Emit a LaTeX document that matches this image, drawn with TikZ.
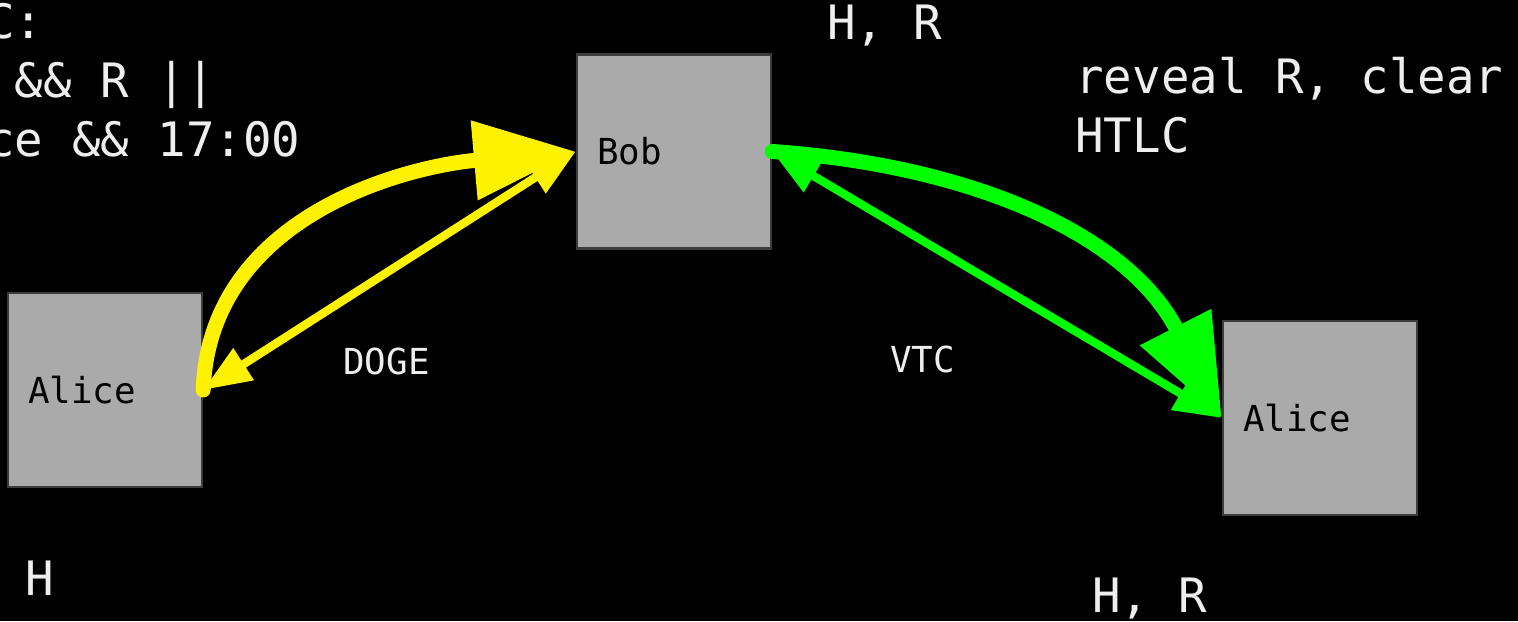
\documentclass[tikz,border=0pt]{standalone}
\usepackage{fontspec}
\setmonofont{DejaVu Sans Mono}
\usetikzlibrary{arrows.meta}
\definecolor{boxgray}{HTML}{AAAAAA}
\definecolor{boxedge}{HTML}{3C3C3C}
\definecolor{txtgray}{HTML}{EEEEEE}

\begin{document}
\begin{tikzpicture}[x=0.5pt, y=0.5pt,
  box/.style={draw=boxedge, line width=1.2pt, fill=boxgray, inner xsep=10pt, inner ysep=0pt,
    text width=77pt, minimum height=97pt, align=left, font=\ttfamily\fontsize{17.9}{20}\selectfont},
  note/.style={text=txtgray, inner sep=0pt, anchor=base west, align=left,
    font=\ttfamily\fontsize{23.7}{29.5}\selectfont},
  chainlbl/.style={text=txtgray, inner sep=0pt, anchor=base west, font=\ttfamily\fontsize{17.9}{20}\selectfont},
  fat/.style={line width=7.5pt, line cap=round, -{Triangle[length=51pt,width=38pt]}},
  slim/.style={line width=4.2pt, {Triangle[length=24pt,width=18pt]}-{Triangle[length=24pt,width=18pt]}}]
  \useasboundingbox (0,0) rectangle (1518,621);
  \fill[black] (0,0) rectangle (1518,621);
  \clip (0,0) rectangle (1518,621);

  \node[box] (bob) at (674,469.5) {Bob};
  \node[box] (alicedoge) at (105,231) {Alice};
  \node[box] (alicevtc) at (1320,203) {Alice};

  \node[note] (htlc) at (-14,464) {C:\\\phantom{C}\&\& R ||\\ce \&\& 17:00};
  \node[note] (hrtop) at (827,581) {H, R};
  \node[note] (reveal) at (1075,468) {reveal R, clear\\HTLC};
  \node[note] (hdoge) at (25,26) {H};
  \node[note] (hrvtc) at (1092,9) {H, R};
  \node[chainlbl] (doge) at (343,246) {DOGE};
  \node[chainlbl] (vtc) at (890,248) {VTC};

  \draw[fat, yellow] (alicedoge.east) to[out=88, in=185] (bob.west);
  \draw[slim, yellow] (alicedoge.east) -- (bob.west);
  \draw[fat, green] (bob.east) to[out=-4, in=117] (alicevtc.west);
  \draw[slim, green] (bob.east) -- (alicevtc.west);
\end{tikzpicture}
\end{document}
